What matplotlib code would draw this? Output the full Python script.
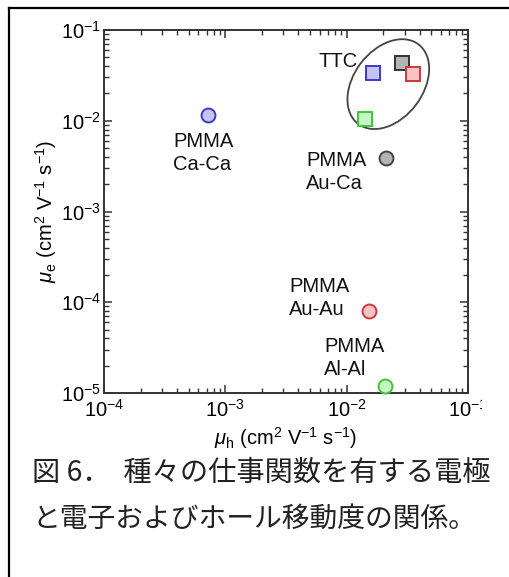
import matplotlib
matplotlib.use("Agg")
import matplotlib.pyplot as plt
from matplotlib.patches import Ellipse
from matplotlib.lines import Line2D
from matplotlib.transforms import Bbox, TransformedBbox, IdentityTransform
import numpy as np

plt.rcParams['font.family'] = ['Liberation Sans', 'DejaVu Sans']
plt.rcParams['mathtext.fontset'] = 'custom'
plt.rcParams['mathtext.rm'] = 'Liberation Sans'
plt.rcParams['mathtext.it'] = 'Liberation Sans:italic'
plt.rcParams['mathtext.bf'] = 'Liberation Sans:bold'

# ---- data ----
pmma_labels = ["PMMA\nCa-Ca", "PMMA\nAu-Ca", "PMMA\nAu-Au", "PMMA\nAl-Al"]
pmma_mu_h = [7.2e-4, 0.0211, 0.0153, 0.0207]
pmma_mu_e = [1.16e-2, 3.9e-3, 8.0e-5, 1.18e-5]
pmma_edge = ["#3a3ac8", "#444444", "#c83a3a", "#3ac83a"]
pmma_face = ["#c4c4f4", "#b4b4b4", "#f6c4c4", "#c8f4c8"]

ttc_mu_h = [0.0165, 0.0286, 0.0352, 0.0142]
ttc_mu_e = [0.0336, 0.0433, 0.0327, 0.0104]
ttc_edge = ["#3a3ac8", "#333333", "#c83a3a", "#3ac83a"]
ttc_face = ["#c4c4f4", "#b4b4b4", "#f6c4c4", "#c8f4c8"]

xlim = (1e-4, 1e-1)
ylim = (1e-5, 1e-1)
caption = ["図 6．  種々の仕事関数を有する電極", "と電子およびホール移動度の関係。"]

W, H = 509, 577
fig = plt.figure(figsize=(W / 100, H / 100), dpi=100)
ax = fig.add_axes([104 / W, 1 - 393 / H, 364 / W, 363 / H])
ax.set_xscale('log')
ax.set_yscale('log')
ax.set_xlim(*xlim)
ax.set_ylim(*ylim)

spine_c = "#333333"
for s in ax.spines.values():
    s.set_linewidth(1.4)
    s.set_color(spine_c)
ax.tick_params(which='both', direction='in', top=True, right=True, color=spine_c)
ax.tick_params(which='major', length=6, width=1.1, labelsize=14.5, pad=4)
ax.tick_params(which='minor', length=3.5, width=1.0)
ax.tick_params(axis='y', which='major', pad=2)
ax.set_xticks([1e-4, 1e-3, 1e-2, 1e-1])
ax.set_yticks([1e-5, 1e-4, 1e-3, 1e-2, 1e-1])

ax.set_xlabel(r'$\mathit{\mu}_{\rm h}$ (cm$^2$ V$^{-1}$ s$^{-1}$)', fontsize=14.5)
ax.set_ylabel(r'$\mathit{\mu}_{\rm e}$ (cm$^2$ V$^{-1}$ s$^{-1}$)', fontsize=14.5)
ax.xaxis.label.set_va('center')
ax.yaxis.label.set_va('center')
ax.xaxis.set_label_coords(0.5, -(438 - 393) / 363)
ax.yaxis.set_label_coords(-(104 - 46) / 364, 0.5)

# PMMA circles
for x, y, ec, fc in zip(pmma_mu_h, pmma_mu_e, pmma_edge, pmma_face):
    ax.plot([x], [y], 'o', ms=10, mfc=fc, mec=ec, mew=1.4, clip_on=False, zorder=4)
# TTC squares
for x, y, ec, fc in zip(ttc_mu_h, ttc_mu_e, ttc_edge, ttc_face):
    ax.plot([x], [y], 's', ms=10.5, mfc=fc, mec=ec, mew=1.4, zorder=4)

# labels for PMMA points (offsets in pixels)
offsets = [(-35, -17), (-80, 7), (-80, 34), (-61, 49)]
for lab, x, y, off in zip(pmma_labels, pmma_mu_h, pmma_mu_e, offsets):
    ax.annotate(lab, (x, y), xytext=off, textcoords='offset pixels',
                ha='left', va='top', fontsize=14.5, linespacing=1.25, color='#111111')

ax.annotate("TTC", (ttc_mu_h[0], ttc_mu_e[0]), xytext=(-15, 11), textcoords='offset pixels',
            ha='right', va='center', fontsize=14.5, color='#111111')

# ellipse around TTC group
cx, cy = np.exp(np.mean(np.log(ttc_mu_h))), np.exp(np.mean(np.log(ttc_mu_e)))
cax = ax.transAxes.inverted().transform(ax.transData.transform((cx, cy)))
ell = Ellipse(cax + np.array([0.0, -0.005]), width=100 / 364, height=69 / 363, angle=53,
              transform=ax.transAxes, fill=False, ec='#444444', lw=1.3, zorder=3)
ax.add_patch(ell)

# clip the last x tick label like the reference crop
fig.canvas.draw()
clip = TransformedBbox(Bbox([[0, 0], [482, H]]), IdentityTransform())
for tk in ax.xaxis.get_major_ticks():
    tk.label1.set_clip_on(True)
    tk.label1.set_clip_box(clip)

# outer frame (left and top edges)
fig.add_artist(Line2D([9 / W, 9 / W], [0, 1 - 8 / H], transform=fig.transFigure,
                      color='black', lw=1.6))
fig.add_artist(Line2D([9 / W, 1], [1 - 8 / H, 1 - 8 / H], transform=fig.transFigure,
                      color='black', lw=1.6))

# caption
fig.text(32 / W, 1 - 473 / H, caption[0], fontsize=20.3, va='center', ha='left',
         family=['Noto Sans CJK JP', 'DejaVu Sans'], color='#222222')
fig.text(32 / W, 1 - 519 / H, caption[1], fontsize=20, va='center', ha='left',
         family=['Noto Sans CJK JP', 'DejaVu Sans'], color='#222222')

fig.savefig("out.png", dpi=100)
